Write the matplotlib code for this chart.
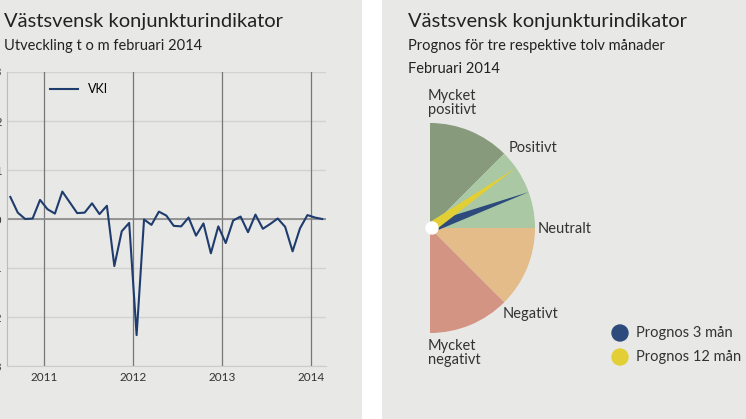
"""Västsvensk konjunkturindikator: VKI line chart and forecast gauge."""

import matplotlib
matplotlib.use('Agg')
import matplotlib.pyplot as plt
from matplotlib.patches import Wedge, Circle, Polygon
import numpy as np

plt.rcParams['font.family'] = 'Lato'

# Monthly VKI values, Aug 2010 - Feb 2014
vki = [0.45, 0.13, 0.0, 0.01, 0.39, 0.2, 0.11, 0.56, 0.34, 0.12, 0.13,
       0.32, 0.10, 0.27, -0.96, -0.25, -0.08, -2.37, -0.01, -0.12, 0.15,
       0.07, -0.14, -0.15, 0.03, -0.34, -0.09, -0.70, -0.15, -0.49, -0.03,
       0.05, -0.27, 0.09, -0.2, -0.1, 0.01, -0.16, -0.66, -0.19, 0.08,
       0.03, 0.0]
year_labels = ['2011', '2012', '2013', '2014']
year_pos = [4.5, 16.5, 28.5, 40.5]

# Gauge sectors (start, end angle in degrees) and labels
sector_names = ['Mycket\npositivt', 'Positivt', 'Negativt', 'Mycket\nnegativt']
sector_angles = [(45, 90), (0, 45), (-45, 0), (-90, -45)]
sector_colors = ['#879b7c', '#a9c8a3', '#e3bc89', '#d49483']
needle_names = ['Prognos 3 mån', 'Prognos 12 mån']
needle_angles = [20, 35]
needle_colors = ['#2c4a7c', '#e2cf36']

BG = '#e8e8e6'
LINE = '#1f3c6e'

fig = plt.figure(figsize=(7.46, 4.19), dpi=100)
fig.patch.set_facecolor('white')
W, H = 746, 419

# Panel backgrounds in a back axes
back = fig.add_axes([0, 0, 1, 1], zorder=-10)
back.set_xlim(0, W)
back.set_ylim(0, H)
back.axis('off')
back.add_patch(plt.Rectangle((0, 0), 362, H, color=BG, linewidth=0))
back.add_patch(plt.Rectangle((382, 0), W - 382, H, color=BG, linewidth=0))

# Titles
fig.text(4 / W, 1 - 21 / H, 'Västsvensk konjunkturindikator', fontsize=14.5,
         color='#222222', va='center')
fig.text(4 / W, 1 - 46 / H, 'Utveckling t o m februari 2014', fontsize=10.5,
         color='#222222', va='center')
fig.text(408 / W, 1 - 21 / H, 'Västsvensk konjunkturindikator', fontsize=14.5,
         color='#222222', va='center')
fig.text(408 / W, 1 - 46 / H, 'Prognos för tre respektive tolv månader',
         fontsize=10.5, color='#222222', va='center')
fig.text(408 / W, 1 - 69 / H, 'Februari 2014', fontsize=10.5,
         color='#222222', va='center')

# Line chart
ax = fig.add_axes([7 / W, 1 - 366 / H, (326 - 7) / W, (366 - 72) / H])
ax.set_facecolor(BG)
x = np.arange(len(vki))
ax.set_xlim(-0.45, 42.5)
ax.set_ylim(-3, 3)
ax.set_yticks(range(-3, 4))
ax.set_yticklabels([str(v) for v in range(-3, 4)], fontsize=8, color='#333333')
ax.tick_params(axis='y', length=0, pad=4)
ax.set_xticks(year_pos)
ax.set_xticklabels(year_labels, fontsize=8.5, color='#333333')
ax.tick_params(axis='x', length=0, pad=4)
ax.grid(axis='y', color='#d2d2d0', linewidth=1)
for p in year_pos:
    ax.axvline(p, color='#777777', linewidth=0.9)
ax.axhline(0, color='#888888', linewidth=1.2)
for s in ['top', 'right']:
    ax.spines[s].set_visible(False)
ax.spines['left'].set_color('#bbbbbb')
ax.spines['bottom'].set_color('#cccccc')
ax.plot(x, vki, color=LINE, linewidth=1.5, label='VKI')
ax.legend(loc='upper left', bbox_to_anchor=(0.1, 1.0), frameon=False,
          fontsize=9, handlelength=2.2)

# Gauge
gx = fig.add_axes([382 / W, 0, 1 - 382 / W, 1])
gx.set_xlim(382, W)
gx.set_ylim(0, H)
gx.set_aspect('equal')
gx.axis('off')
cx, cy, r = 430, H - 228, 105
for (a0, a1), col in zip(sector_angles, sector_colors):
    gx.add_patch(Wedge((cx, cy), r, a0, a1, color=col, linewidth=0))
for ang, col in zip(needle_angles, needle_colors):
    t = np.radians(ang)
    n = np.array([-np.sin(t), np.cos(t)])
    tip = (cx + r * np.cos(t), cy + r * np.sin(t))
    base1 = (cx + 5 * n[0], cy + 5 * n[1])
    base2 = (cx - 5 * n[0], cy - 5 * n[1])
    gx.add_patch(Polygon([base1, tip, base2], color=col, linewidth=0))
gx.add_patch(Circle((cx + 2, cy), 6, color='white'))

txt = dict(fontsize=10.5, color='#333333')
gx.text(428, H - 103, sector_names[0], ha='left', va='center',
        linespacing=0.95, **txt)
gx.text(509, H - 148, sector_names[1], ha='left', va='center', **txt)
gx.text(538, H - 229, 'Neutralt', ha='left', va='center', **txt)
gx.text(503, H - 314, sector_names[2], ha='left', va='center', **txt)
gx.text(428, H - 353, sector_names[3], ha='left', va='center',
        linespacing=0.95, **txt)

for i, (name, col) in enumerate(zip(needle_names, needle_colors)):
    yy = H - 333 - 24 * i
    gx.add_patch(Circle((620, yy), 8, color=col))
    gx.text(636, yy, name, ha='left', va='center', **txt)

fig.savefig('out.png', dpi=100, facecolor=fig.get_facecolor())
